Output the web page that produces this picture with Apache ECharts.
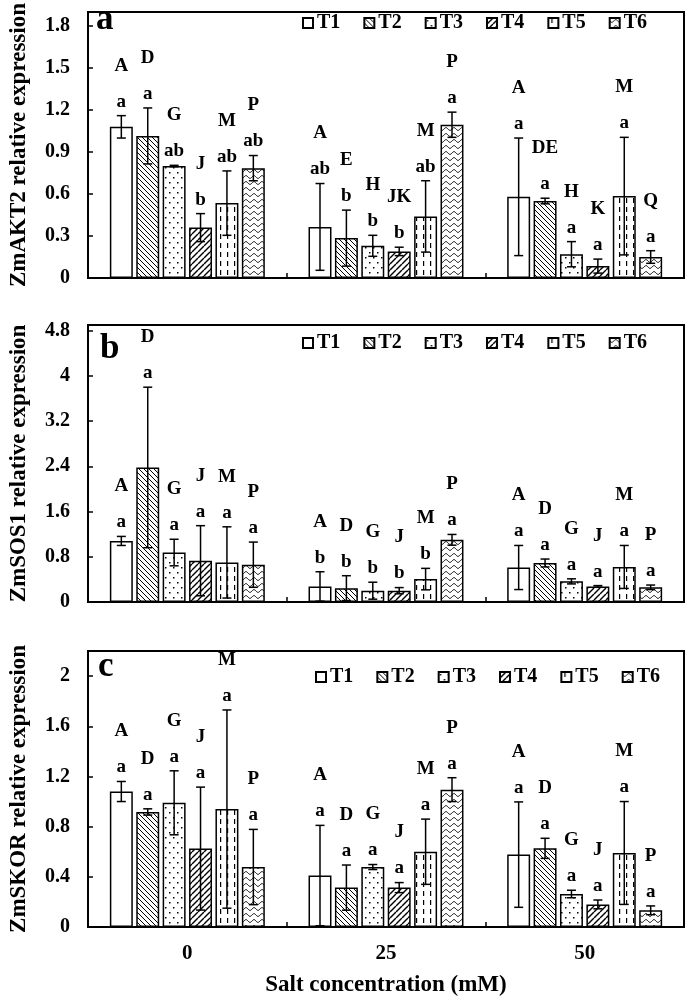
<!DOCTYPE html>
<html><head><meta charset="utf-8">
<script src="https://cdn.jsdelivr.net/npm/echarts@6/dist/echarts.min.js"></script>
<style>html,body{margin:0;padding:0;background:#fff}#c{width:685px;height:999px}</style>
</head><body><div id="c"></div>
<script>
// ---------- data ----------
const categories = ['0', '25', '50'];
const seriesNames = ['T1', 'T2', 'T3', 'T4', 'T5', 'T6'];
const geneNames = ['ZmAKT2 relative expression', 'ZmSOS1 relative expression', 'ZmSKOR relative expression'];
const panelLetters = ['a', 'b', 'c'];

// rows = T1..T6, columns = 0, 25, 50 mM
const akt2Mean = [[1.08, 0.365, 0.58], [1.015, 0.285, 0.55], [0.80, 0.23, 0.17], [0.36, 0.19, 0.085], [0.535, 0.44, 0.585], [0.785, 1.095, 0.15]];
const akt2Err  = [[0.08, 0.31, 0.42], [0.20, 0.20, 0.02], [0.005, 0.075, 0.09], [0.10, 0.03, 0.05], [0.23, 0.255, 0.42], [0.09, 0.09, 0.045]];
const akt2Low  = [['a', 'ab', 'a'], ['a', 'b', 'a'], ['ab', 'b', 'a'], ['b', 'b', 'a'], ['ab', 'ab', 'a'], ['ab', 'a', 'a']];
const akt2Up   = [['A', 'A', 'A'], ['D', 'E', 'DE'], ['G', 'H', 'H'], ['J', 'JK', 'K'], ['M', 'M', 'M'], ['P', 'P', 'Q']];

const sos1Mean = [[1.08, 0.275, 0.61], [2.38, 0.245, 0.69], [0.875, 0.20, 0.365], [0.73, 0.20, 0.275], [0.70, 0.405, 0.62], [0.66, 1.10, 0.26]];
const sos1Err  = [[0.08, 0.26, 0.39], [1.42, 0.22, 0.07], [0.235, 0.15, 0.045], [0.62, 0.055, 0.015], [0.63, 0.19, 0.38], [0.40, 0.095, 0.04]];
const sos1Low  = [['a', 'b', 'a'], ['a', 'b', 'a'], ['a', 'b', 'a'], ['a', 'b', 'a'], ['a', 'b', 'a'], ['a', 'a', 'a']];
const sos1Up   = [['A', 'A', 'A'], ['D', 'D', 'D'], ['G', 'G', 'G'], ['J', 'J', 'J'], ['M', 'M', 'M'], ['P', 'P', 'P']];

const skorMean = [[1.08, 0.41, 0.577], [0.917, 0.314, 0.627], [0.99, 0.478, 0.263], [0.625, 0.314, 0.18], [0.94, 0.60, 0.59], [0.478, 1.095, 0.133]];
const skorErr  = [[0.08, 0.40, 0.42], [0.025, 0.18, 0.08], [0.255, 0.02, 0.03], [0.49, 0.04, 0.035], [0.79, 0.26, 0.41], [0.30, 0.095, 0.035]];
const skorLow  = [['a', 'a', 'a'], ['a', 'a', 'a'], ['a', 'a', 'a'], ['a', 'a', 'a'], ['a', 'a', 'a'], ['a', 'a', 'a']];
const skorUp   = [['A', 'A', 'A'], ['D', 'D', 'D'], ['G', 'G', 'G'], ['J', 'J', 'J'], ['M', 'M', 'M'], ['P', 'P', 'P']];

const yMax = [1.9, 4.9, 2.2];
const yInterval = [0.3, 0.8, 0.4];

// ---------- build ----------
const panels = [
  {mean: akt2Mean, err: akt2Err, low: akt2Low, up: akt2Up},
  {mean: sos1Mean, err: sos1Err, low: sos1Low, up: sos1Up},
  {mean: skorMean, err: skorErr, low: skorLow, up: skorUp}
];

const FONT = '"Liberation Serif", "Times New Roman", serif';

function makePattern(kind) {
  const c = document.createElement('canvas');
  let w = 8, h = 8;
  if (kind === 1) { w = 5; h = 5; }
  if (kind === 2) { w = 8; h = 10; }
  if (kind === 3) { w = 6; h = 6; }
  if (kind === 4) { w = 7; h = 9; }
  if (kind === 5) { w = 8; h = 6; }
  c.width = w; c.height = h;
  const ctx = c.getContext('2d');
  ctx.fillStyle = '#fff';
  ctx.fillRect(0, 0, w, h);
  ctx.strokeStyle = '#000';
  ctx.fillStyle = '#000';
  if (kind === 1) {
    ctx.lineWidth = 1;
    for (const o of [-w, 0, w]) { ctx.beginPath(); ctx.moveTo(o, 0); ctx.lineTo(o + w, h); ctx.stroke(); }
  } else if (kind === 2) {
    ctx.fillRect(1, 2, 1.5, 1.5);
    ctx.fillRect(5, 7, 1.5, 1.5);
  } else if (kind === 3) {
    ctx.lineWidth = 1.4;
    for (const o of [-w, 0, w]) { ctx.beginPath(); ctx.moveTo(o, h); ctx.lineTo(o + w, 0); ctx.stroke(); }
  } else if (kind === 4) {
    ctx.fillRect(3, 0, 1.2, 5);
  } else if (kind === 5) {
    ctx.lineWidth = 1;
    ctx.beginPath();
    for (let x = 0; x <= w; x += 0.5) {
      const y = 3 + 1.4 * Math.sin(2 * Math.PI * x / w);
      if (x === 0) ctx.moveTo(x, y); else ctx.lineTo(x, y);
    }
    ctx.stroke();
  }
  if (kind === 0) return '#fff';
  return {image: c, repeat: 'repeat'};
}
const patterns = [0, 1, 2, 3, 4, 5].map(makePattern);

const CAT_GAP = 0.22, BAR_GAP = 0.15, N = 6;

const grids = [
  {left: 80, right: 1, top: 2, height: 276},
  {left: 80, right: 1, top: 325, height: 277},
  {left: 82, right: 1, top: 651, height: 276}
].map(g => Object.assign({show: true, borderColor: '#000', borderWidth: 2, backgroundColor: 'transparent'}, g));

const xAxes = [0, 1, 2].map(p => ({
  gridIndex: p, type: 'category', data: categories,
  axisLine: {show: true, lineStyle: {color: '#000', width: 2}},
  axisTick: {show: true, inside: true, length: 5, lineStyle: {color: '#000', width: 1.5}},
  axisLabel: {show: p === 2, color: '#000', fontFamily: FONT, fontWeight: 'bold', fontSize: 21, margin: 16},
  name: p === 2 ? 'Salt concentration (mM)' : '',
  nameLocation: 'middle', nameGap: 47,
  nameTextStyle: {color: '#000', fontFamily: FONT, fontWeight: 'bold', fontSize: 23},
  splitLine: {show: false}
}));

const yAxes = [0, 1, 2].map(p => ({
  gridIndex: p, type: 'value', min: 0, max: yMax[p], interval: yInterval[p],
  name: geneNames[p], nameLocation: 'middle', nameGap: 57,
  nameTextStyle: {color: '#000', fontFamily: FONT, fontWeight: 'bold', fontSize: 23},
  axisLine: {show: true, lineStyle: {color: '#000', width: 2}},
  axisTick: {show: true, inside: true, length: 5, lineStyle: {color: '#000', width: 1.5}},
  axisLabel: {showMaxLabel: false, color: '#000', fontFamily: FONT, fontWeight: 'bold', fontSize: 20, margin: 18},
  splitLine: {show: false}
}));

const series = [];
panels.forEach((pd, p) => {
  seriesNames.forEach((nm, i) => {
    series.push({
      type: 'bar', name: nm, xAxisIndex: p, yAxisIndex: p,
      data: pd.mean[i], barCategoryGap: (CAT_GAP * 100) + '%', barGap: (BAR_GAP * 100) + '%',
      itemStyle: {color: patterns[i], borderColor: '#000', borderWidth: 1.5},
      silent: true
    });
  });
  const ebData = [];
  seriesNames.forEach((nm, i) => {
    categories.forEach((c, j) => { ebData.push([j, i, pd.mean[i][j], pd.err[i][j]]); });
  });
  series.push({
    type: 'custom', name: 'err' + p, xAxisIndex: p, yAxisIndex: p, z: 5, silent: true,
    encode: {x: 0, y: 2},
    data: ebData,
    renderItem: function (params, api) {
      const cat = api.value(0), si = api.value(1), m = api.value(2), e = api.value(3);
      const band = api.size([1, 0])[0];
      const w = band * (1 - CAT_GAP) / (N + (N - 1) * BAR_GAP);
      const total = N * w + (N - 1) * BAR_GAP * w;
      const c0 = api.coord([cat, m]);
      const cx = c0[0] - total / 2 + si * w * (1 + BAR_GAP) + w / 2;
      const yT = api.coord([cat, m + e])[1];
      const yB = api.coord([cat, m - e])[1];
      const ls = {stroke: '#000', lineWidth: 1.5};
      const hw = 4.5;
      const lowTxt = pd.low[si][cat], upTxt = pd.up[si][cat];
      const f = 'bold 19px ' + FONT;
      return {
        type: 'group',
        children: [
          {type: 'line', shape: {x1: cx, y1: yT, x2: cx, y2: yB}, style: ls},
          {type: 'line', shape: {x1: cx - hw, y1: yT, x2: cx + hw, y2: yT}, style: ls},
          {type: 'line', shape: {x1: cx - hw, y1: yB, x2: cx + hw, y2: yB}, style: ls},
          {type: 'text', style: {text: lowTxt, x: cx, y: yT - 14, align: 'center', verticalAlign: 'middle', font: f, fill: '#000'}},
          {type: 'text', style: {text: upTxt, x: cx, y: yT - 50, align: 'center', verticalAlign: 'middle', font: f, fill: '#000'}}
        ]
      };
    }
  });
});

const legendTops = [13, 333, 667];
const legendLefts = [302, 302, 315];
const legends = [0, 1, 2].map(p => ({
  data: seriesNames, left: legendLefts[p], top: legendTops[p], orient: 'horizontal',
  itemWidth: 10, itemHeight: 10, itemGap: 23, padding: 0, selectedMode: false,
  icon: 'rect',
  textStyle: {color: '#000', fontFamily: FONT, fontWeight: 'bold', fontSize: 20, padding: [0, 0, 0, -1]}
}));

const letterPos = [[96, 20], [100, 349], [98, 667]];
const graphics = panelLetters.map((t, p) => ({
  type: 'text', left: letterPos[p][0], top: letterPos[p][1] - 18, z: 10,
  style: {text: t, font: 'bold 35px ' + FONT, fill: '#000'}
}));

const chart = echarts.init(document.getElementById('c'), null, {renderer: 'canvas'});
chart.setOption({
  animation: false,
  backgroundColor: '#fff',
  grid: grids, xAxis: xAxes, yAxis: yAxes,
  legend: legends,
  graphic: graphics,
  series: series
});
</script></body></html>
